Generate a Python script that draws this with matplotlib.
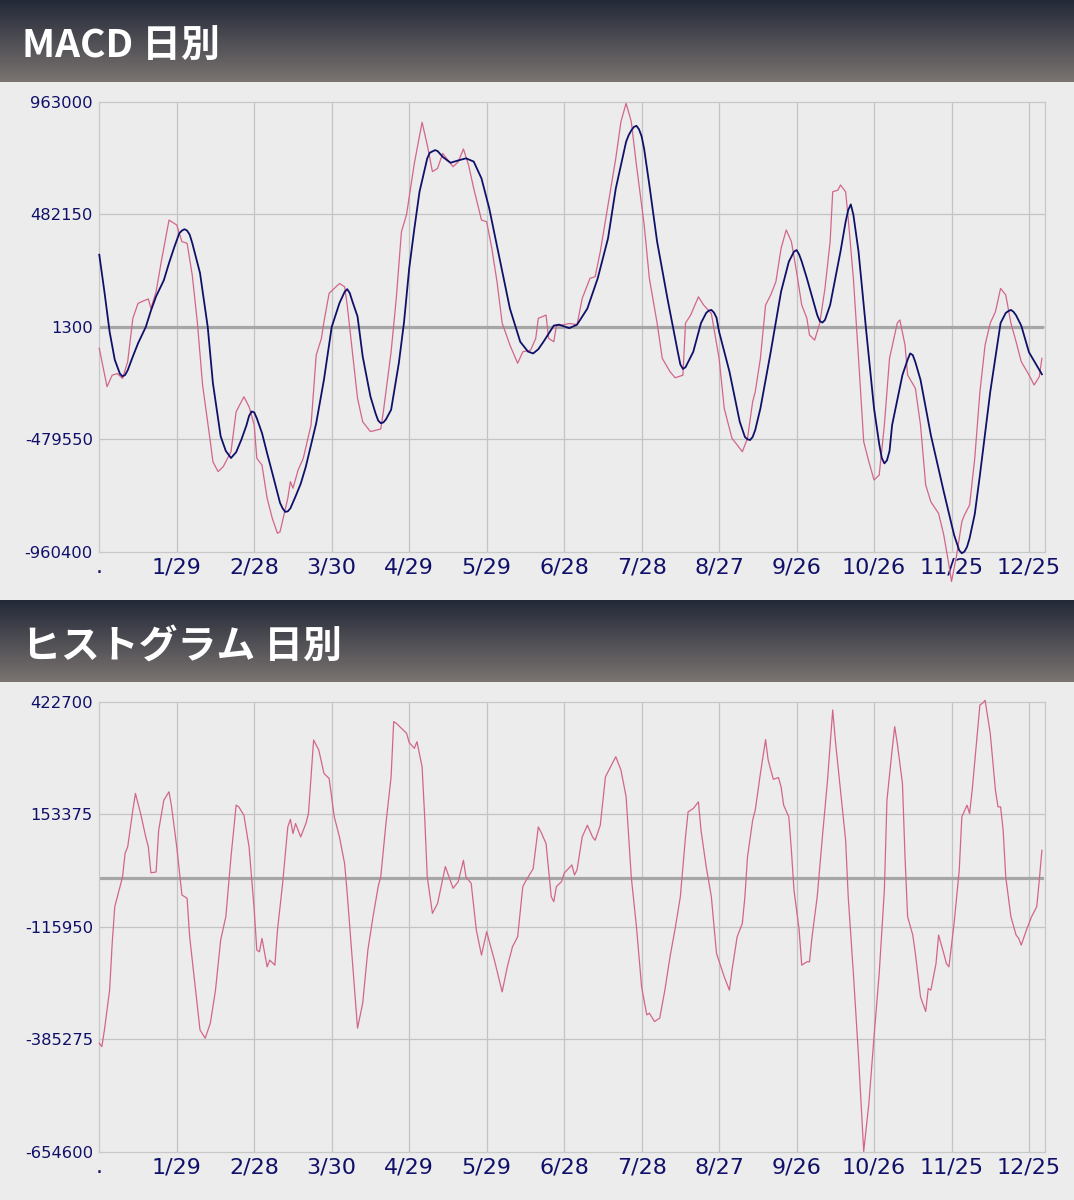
import numpy as np
import matplotlib.pyplot as plt

# x = days since 12/30
tick_days = [0, 30, 60, 90, 120, 150, 180, 210, 240, 270, 300, 330, 360]
tick_labels = ['.', '1/29', '2/28', '3/30', '4/29', '5/29', '6/28', '7/28', '8/27', '9/26', '10/26', '11/25', '12/25']

macd_yticks = [963000, 482150, 1300, -479550, -960400]
hist_yticks = [422700, 153375, -115950, -385275, -654600]

# MACD (pink)
macd_day = [0, 3, 5, 7, 9, 11, 13, 15, 17, 19, 20, 22, 24, 27, 28, 30, 32, 34, 36, 38, 40, 43, 44, 46, 48, 51,
            53, 56, 58, 60, 61, 63, 65, 67, 69, 70, 73, 74, 75, 77, 79, 82, 84, 86, 87, 89, 91, 93, 95, 96, 98,
            100, 102, 105, 109, 110, 113, 115, 117, 119, 122, 125, 127, 129, 131, 133, 135, 137, 139, 141, 143,
            145, 148, 150, 152, 154, 156, 159, 162, 164, 167, 169, 170, 173, 174, 176, 177, 180, 182, 185, 187,
            190, 192, 194, 197, 200, 202, 204, 206, 208, 211, 213, 216, 218, 221, 223, 226, 227, 229, 232, 234,
            237, 240, 242, 245, 247, 249, 251, 253, 254, 256, 258, 260, 262, 264, 266, 268, 270, 272, 274, 275,
            277, 279, 281, 283, 284, 286, 287, 289, 290, 292, 294, 296, 298, 300, 302, 304, 306, 309, 310, 312,
            313, 316, 318, 320, 322, 325, 327, 329, 330, 332, 334, 335, 337, 339, 341, 343, 345, 347, 349, 351,
            353, 355, 357, 360, 362, 364, 365]
macd_val = [-91000, -255000, -206000, -199000, -220000, -148000, 37000, 101000, 111000, 120000, 79000, 151000,
            279000, 457000, 450000, 436000, 365000, 358000, 222000, 17000, -248000, -490000, -576000, -618000,
            -597000, -533000, -362000, -298000, -341000, -419000, -561000, -590000, -732000, -818000, -882000,
            -875000, -732000, -661000, -689000, -611000, -561000, -419000, -120000, -49000, 23000, 144000, 165000,
            186000, 172000, 94000, -106000, -305000, -405000, -447000, -436000, -362000, -106000, 122000, 407000,
            482000, 700000, 875000, 778000, 664000, 678000, 742000, 713000, 685000, 706000, 761000, 692000, 592000,
            457000, 450000, 336000, 194000, 17000, -77000, -155000, -106000, -99000, -49000, 37000, 51000, -49000,
            -63000, 6000, 10000, 15000, 10000, 122000, 208000, 215000, 322000, 521000, 721000, 878000, 956000,
            878000, 692000, 436000, 208000, 17000, -134000, -191000, -217000, -206000, 17000, 51000, 129000, 94000,
            58000, -134000, -348000, -476000, -504000, -533000, -476000, -319000, -277000, -134000, 94000, 137000,
            194000, 336000, 415000, 365000, 236000, 94000, 37000, -34000, -56000, 17000, 165000, 365000, 578000,
            585000, 607000, 578000, 464000, 208000, -134000, -490000, -576000, -654000, -633000, -419000, -134000,
            17000, 30000, -77000, -205000, -262000, -419000, -675000, -747000, -797000, -889000, -1017000,
            -1088000, -974000, -832000, -804000, -761000, -561000, -277000, -77000, 17000, 65000, 165000, 137000,
            17000, -63000, -148000, -205000, -248000, -212000, -134000]

# signal (navy)
signal_day = [0, 2, 4, 6, 8, 9, 10, 11, 13, 15, 18, 20, 22, 25, 27, 29, 31, 32, 33, 34, 35, 36, 39, 42, 44, 47,
              49, 51, 53, 55, 57, 58, 59, 60, 61, 63, 65, 67, 70, 71, 72, 73, 74, 76, 78, 80, 84, 87, 90, 93,
              95, 96, 97, 98, 100, 102, 105, 107, 108, 109, 110, 111, 113, 116, 118, 120, 122, 124, 127, 128,
              130, 131, 133, 136, 139, 142, 145, 148, 151, 155, 159, 163, 166, 168, 170, 172, 176, 178, 182,
              185, 189, 193, 197, 200, 204, 205, 206, 207, 208, 209, 210, 211, 213, 216, 220, 224, 225, 226,
              227, 228, 230, 233, 235, 236, 237, 238, 239, 240, 244, 248, 250, 251, 252, 253, 254, 256, 260,
              264, 267, 269, 270, 271, 272, 274, 278, 279, 280, 281, 283, 287, 289, 290, 291, 292, 294, 297,
              300, 302, 303, 304, 305, 306, 307, 311, 313, 314, 315, 316, 318, 322, 327, 331, 333, 334, 335,
              336, 337, 339, 341, 345, 349, 351, 352, 353, 354, 355, 357, 360, 365]
signal_val = [309000, 150000, -20000, -140000, -200000, -211000, -205000, -185000, -126000, -70000, 0, 70000,
              131000, 200000, 273000, 340000, 401000, 412000, 418000, 412000, 395000, 359000, 231000, 0, -240000,
              -467000, -530000, -560000, -535000, -482000, -420000, -380000, -361000, -365000, -390000, -453000,
              -540000, -624000, -752000, -775000, -790000, -788000, -775000, -724000, -670000, -596000, -411000,
              -225000, 0, 102000, 150000, 162000, 145000, 110000, 45000, -126000, -297000, -370000, -400000,
              -411000, -408000, -395000, -354000, -154000, 20000, 250000, 420000, 578000, 721000, 745000,
              756000, 752000, 727000, 702000, 712000, 721000, 707000, 635000, 507000, 293000, 79000, -63000,
              -105000, -113000, -95000, -63000, 6000, 10000, -5000, 10000, 79000, 208000, 379000, 592000,
              792000, 820000, 840000, 855000, 860000, 845000, 815000, 760000, 607000, 365000, 122000, -106000,
              -160000, -179000, -172000, -150000, -106000, 17000, 60000, 70000, 73000, 62000, 40000, -20000,
              -190000, -405000, -470000, -480000, -483000, -470000, -440000, -348000, -106000, 151000, 279000,
              322000, 329000, 310000, 280000, 208000, 51000, 25000, 19000, 30000, 94000, 322000, 450000, 500000,
              524000, 480000, 322000, -20000, -348000, -500000, -560000, -583000, -570000, -530000, -419000,
              -205000, -140000, -113000, -120000, -150000, -226000, -462000, -704000, -889000, -955000, -967000,
              -960000, -940000, -903000, -800000, -633000, -277000, 17000, 60000, 68000, 73000, 65000, 50000,
              6000, -108000, -202000]

# histogram (pink)
hist_day = [0, 1, 2, 4, 5, 6, 7, 9, 10, 11, 13, 14, 16, 18, 19, 20, 22, 23, 25, 27, 28, 30, 32, 34, 35, 37, 39,
            41, 43, 45, 47, 49, 51, 53, 54, 56, 58, 60, 61, 62, 63, 65, 66, 68, 69, 71, 73, 74, 75, 76, 78, 80,
            81, 83, 85, 87, 89, 91, 93, 95, 96, 98, 100, 102, 104, 106, 108, 109, 111, 113, 114, 115, 117, 119,
            120, 122, 123, 125, 126, 127, 129, 131, 134, 137, 139, 141, 142, 144, 146, 148, 150, 153, 156, 158,
            160, 162, 164, 165, 168, 170, 171, 173, 175, 176, 177, 179, 180, 183, 184, 185, 187, 189, 191, 192,
            194, 196, 198, 200, 202, 204, 206, 208, 210, 212, 213, 215, 217, 219, 221, 223, 225, 227, 228, 230,
            232, 233, 235, 237, 239, 242, 244, 245, 247, 249, 250, 251, 253, 254, 256, 258, 259, 261, 263, 264,
            265, 267, 268, 269, 271, 272, 274, 275, 276, 278, 280, 282, 284, 285, 287, 289, 290, 292, 294, 296,
            298, 300, 302, 304, 305, 307, 308, 309, 311, 312, 313, 315, 316, 318, 320, 321, 322, 324, 325, 327,
            328, 329, 331, 333, 334, 336, 337, 338, 340, 341, 342, 343, 345, 347, 348, 349, 350, 351, 353, 355,
            356, 357, 359, 361, 363, 364, 365]
hist_val = [-395000, -403000, -363000, -268000, -156000, -68000, -44000, 3000, 60000, 75000, 163000, 203000,
            155000, 99000, 75000, 13000, 15000, 115000, 187000, 207000, 171000, 75000, -40000, -48000, -140000,
            -252000, -363000, -383000, -347000, -268000, -148000, -92000, 51000, 175000, 171000, 151000, 75000,
            -76000, -172000, -176000, -144000, -212000, -196000, -208000, -124000, -12000, 123000, 141000, 107000,
            131000, 99000, 131000, 155000, 331000, 307000, 251000, 239000, 147000, 99000, 35000, -36000, -196000,
            -359000, -299000, -172000, -92000, -20000, 4000, 131000, 243000, 375000, 371000, 359000, 347000,
            325000, 311000, 327000, 267000, 147000, 3000, -84000, -60000, 28000, -24000, -8000, 43000, 3000,
            -12000, -124000, -184000, -128000, -196000, -272000, -212000, -164000, -140000, -20000, -8000, 23000,
            123000, 111000, 83000, -44000, -56000, -20000, -8000, 12000, 32000, 8000, 20000, 99000, 127000,
            99000, 91000, 127000, 243000, 267000, 291000, 259000, 195000, 3000, -116000, -260000, -327000,
            -323000, -343000, -335000, -268000, -188000, -120000, -44000, 99000, 159000, 167000, 183000, 115000,
            28000, -44000, -180000, -236000, -268000, -220000, -140000, -108000, -44000, 51000, 139000, 163000,
            251000, 332000, 283000, 237000, 241000, 219000, 175000, 147000, 67000, -28000, -124000, -208000,
            -200000, -200000, -140000, -44000, 99000, 235000, 403000, 331000, 211000, 91000, -44000, -228000,
            -427000, -654000, -539000, -379000, -228000, -28000, 187000, 307000, 363000, 323000, 227000, 51000,
            -92000, -136000, -180000, -284000, -319000, -264000, -268000, -204000, -136000, -180000, -204000,
            -212000, -108000, 20000, 147000, 175000, 155000, 211000, 347000, 415000, 419000, 426000, 347000,
            211000, 171000, 171000, 115000, 3000, -92000, -136000, -144000, -160000, -124000, -92000, -68000,
            -4000, 67000]

W, H = 1074, 1200
bg = '#ececec'
navy = '#10106a'
pink = '#d2668a'

fig = plt.figure(figsize=(W / 100, H / 100), dpi=100, facecolor=bg)

grad = np.linspace(0, 1, 100).reshape(-1, 1)
top_c = np.array([35, 41, 55]) / 255
bot_c = np.array([122, 115, 113]) / 255
grad_img = top_c + grad[:, :, None] * (bot_c - top_c)


def header(y0, y1, text):
    hax = fig.add_axes([0, 1 - y1 / H, 1, (y1 - y0) / H])
    hax.imshow(grad_img, aspect='auto', extent=[0, 1, 1, 0])
    hax.set_xlim(0, 1)
    hax.set_ylim(1, 0)
    hax.axis('off')
    hax.text(22 / W, 0.57, text, color='white', fontsize=28, fontweight='bold',
             family=['Noto Sans CJK JP', 'DejaVu Sans'], va='center', ha='left')


def panel(top, bottom, yticks):
    left, right = 98.5, 1045
    ax = fig.add_axes([left / W, 1 - bottom / H, (right - left) / W, (bottom - top) / H])
    ax.set_facecolor(bg)
    ax.set_xlim(-0.3, 366.2)
    ax.set_ylim(yticks[-1], yticks[0])
    ax.set_yticks(yticks)
    ax.set_yticklabels([str(v) for v in yticks])
    ax.set_xticks(tick_days)
    ax.set_xticklabels(tick_labels)
    for d in tick_days[1:]:
        ax.axvline(d, color='#c4c4c4', lw=0.9, zorder=1)
    for v in yticks[1:-1]:
        ax.axhline(v, color='#c4c4c4', lw=0.9, zorder=1)
    ax.plot([0, 365], [0, 0], color='#a6a6a6', lw=2.3, zorder=2)
    for s in ax.spines.values():
        s.set_color('#c8c8c8')
        s.set_linewidth(0.9)
    ax.tick_params(axis='y', length=0, pad=4, labelsize=11.8, labelcolor=navy)
    ax.tick_params(axis='x', length=0, pad=4, labelsize=16, labelcolor=navy)
    return ax


header(0, 82, 'MACD 日別')
ax1 = panel(101.7, 551.7, macd_yticks)
ax1.plot(macd_day, macd_val, color=pink, lw=0.9, zorder=3, clip_on=False)
ax1.plot(signal_day, signal_val, color=navy, lw=1.3, zorder=4, clip_on=False)

header(600, 682, 'ヒストグラム 日別')
ax2 = panel(701.7, 1151.7, hist_yticks)
ax2.plot(hist_day, hist_val, color=pink, lw=0.9, zorder=3, clip_on=False)

fig.savefig('out.png', dpi=100, facecolor=bg)
